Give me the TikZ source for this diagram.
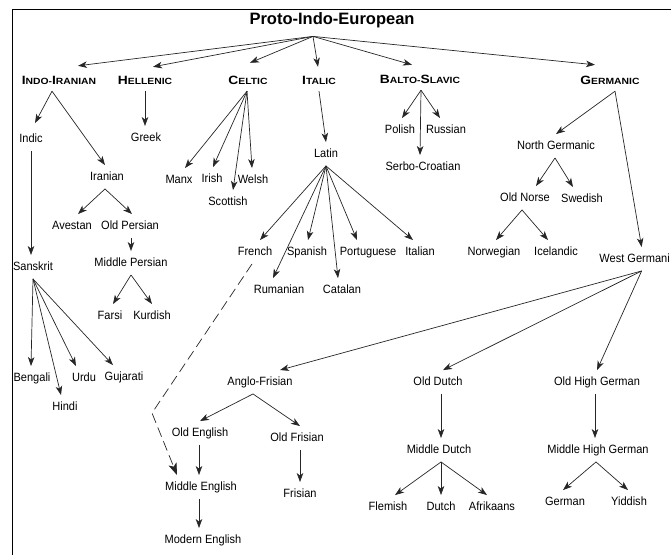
\documentclass[tikz,border=0pt]{standalone}
\usepackage{fontspec}
\setmainfont{Liberation Sans}
\newfontfamily\lblfont[FakeStretch=0.92]{Liberation Sans}
\usepackage{graphicx}
\usetikzlibrary{arrows.meta}
\newcommand\bc[1]{{\fontsize{12}{13}\selectfont #1}}
\newcommand\hdtext[1]{\scalebox{1.15}[1]{#1}}
\begin{document}
\begin{tikzpicture}[x=1pt,y=-1pt,
  lbl/.style={font=\lblfont\fontsize{12}{14}\selectfont, text height=8.5pt, text depth=2.5pt, inner xsep=1pt, inner ysep=6.25pt},
  hd/.style={font=\bfseries\fontsize{9}{10}\selectfont, text height=8.5pt, text depth=0pt, inner xsep=1pt, inner ysep=6.75pt},
  ttl/.style={font=\bfseries\fontsize{16.5}{18}\selectfont, inner sep=0pt},
  arr/.style={draw=black!85, line width=0.7pt, -{Stealth[length=9pt,width=6.5pt,inset=2.5pt]}},
  darr/.style={draw=black!85, line width=0.7pt, dash pattern=on 10pt off 5pt, -{Stealth[length=12pt,width=8.5pt,inset=3pt]}},
  frame/.style={draw=black, line width=0.8pt}]
\useasboundingbox (0,0) rectangle (671,555);
\draw[frame] (12,555) -- (12,9) -- (671,9);

% title and group heads
\node[ttl] (pie) at (332,20) {Proto-Indo-European};
\coordinate (hub) at ([xshift=-19pt,yshift=-8.5pt]pie.south);
\node[hd] (ii)  at (59,80)  {\hdtext{\bc{I}NDO-\bc{I}RANIAN}};
\node[hd] (hel) at (145,80) {\hdtext{\bc{H}ELLENIC}};
\node[hd] (cel) at (248,80) {\hdtext{\bc{C}ELTIC}};
\node[hd] (ita) at (319,80) {\hdtext{\bc{I}TALIC}};
\node[hd] (bs)  at (420,79) {\hdtext{\bc{B}ALTO-\bc{S}LAVIC}};
\node[hd] (ger) at (610,80) {\hdtext{\bc{G}ERMANIC}};

% Indo-Iranian
\node[lbl] (indic) at (31,139) {Indic};
\node[lbl] (iran)  at (107,177) {Iranian};
\node[lbl] (aves)  at (72,226) {Avestan};
\node[lbl] (opers) at (130,226) {Old Persian};
\node[lbl] (mpers) at (131,263) {Middle Persian};
\node[lbl] (farsi) at (110,316) {Farsi};
\node[lbl] (kurd)  at (152,316) {Kurdish};
\node[lbl] (sansk) at (33,267) {Sanskrit};
\node[lbl] (beng)  at (32,378) {Bengali};
\node[lbl] (hindi) at (65,407) {Hindi};
\node[lbl] (urdu)  at (84,378) {Urdu};
\node[lbl] (guj)   at (124,377) {Gujarati};
% Hellenic
\node[lbl] (greek) at (146,138) {Greek};
% Celtic
\node[lbl] (manx)  at (179,180) {Manx};
\node[lbl] (irish) at (212,179) {Irish};
\node[lbl] (scot)  at (228,202) {Scottish};
\node[lbl] (welsh) at (253,180) {Welsh};
% Italic
\node[lbl] (latin) at (326,154) {Latin};
\node[lbl] (french) at (255,252) {French};
\node[lbl] (span)  at (307,252) {Spanish};
\node[lbl] (port)  at (368,252) {Portuguese};
\node[lbl] (ital)  at (420,252) {Italian};
\node[lbl] (ruman) at (279,290) {Rumanian};
\node[lbl] (catal) at (342,290) {Catalan};
% Balto-Slavic
\node[lbl] (polish) at (400,130) {Polish};
\node[lbl] (russ)  at (446,130) {Russian};
\node[lbl] (serbo) at (423,167) {Serbo-Croatian};
% Germanic
\node[lbl] (ngerm) at (556,146) {North Germanic};
\node[lbl] (onorse) at (525,198) {Old Norse};
\node[lbl] (swed)  at (582,199) {Swedish};
\node[lbl] (norw)  at (494,252) {Norwegian};
\node[lbl] (icel)  at (556,252) {Icelandic};
\node[lbl,anchor=east,inner xsep=0pt] (wgerm) at (670,259) {West Germani};
\node[lbl] (afris) at (260,382) {Anglo-Frisian};
\node[lbl] (odutch) at (438,382) {Old Dutch};
\node[lbl] (ohg)   at (597,382) {Old High German};
\node[lbl] (oeng)  at (200,433) {Old English};
\node[lbl] (ofris) at (297,438) {Old Frisian};
\node[lbl] (fris)  at (300,494) {Frisian};
\node[lbl] (meng)  at (201,487) {Middle English};
\node[lbl] (modeng) at (203,540) {Modern English};
\node[lbl] (mdutch) at (439,450) {Middle Dutch};
\node[lbl] (flem)  at (388,507) {Flemish};
\node[lbl] (dutch) at (441,507) {Dutch};
\node[lbl] (afrik) at (492,507) {Afrikaans};
\node[lbl] (mhg)   at (598,450) {Middle High German};
\node[lbl] (german) at (565,502) {German};
\node[lbl] (yidd)  at (629,502) {Yiddish};

% top fan
\draw[arr] (hub) -- ([xshift=19pt,yshift=3pt]ii.north);
\draw[arr] (hub) -- ([xshift=8pt,yshift=2pt]hel.north);
\draw[arr] (hub) -- ([xshift=2pt,yshift=6pt]cel.north);
\draw[arr] (hub) -- ([xshift=-1pt,yshift=2pt]ita.north);
\draw[arr] (hub) -- ([xshift=-8pt,yshift=3pt]bs.north);
\draw[arr] (hub) -- ([xshift=-15pt,yshift=4pt]ger.north);

% Indo-Iranian
\draw[arr] ([xshift=-7pt]ii.south) -- ([xshift=4pt,yshift=4pt]indic.north);
\draw[arr] ([xshift=-7pt]ii.south) -- ([xshift=-2pt]iran.north);
\draw[arr] ([xshift=-2pt]iran.south) -- ([xshift=6pt]aves.north);
\draw[arr] ([xshift=-2pt]iran.south) -- ([xshift=2pt]opers.north);
\draw[arr] ([xshift=1pt]opers.south) -- (mpers.north);
\draw[arr] (mpers.south) -- ([xshift=3pt]farsi.north);
\draw[arr] (mpers.south) -- (kurd.north);
\draw[arr] (indic.south) -- ([xshift=-2pt]sansk.north);
\draw[arr] (sansk.south) -- ([xshift=-1pt]beng.north);
\draw[arr] (sansk.south) -- ([xshift=-4pt]hindi.north);
\draw[arr] (sansk.south) -- ([xshift=-8pt]urdu.north);
\draw[arr] (sansk.south) -- ([xshift=-11pt]guj.north);
% Hellenic
\draw[arr] (hel.south) -- ([xshift=-1pt]greek.north);
% Celtic
\draw[arr] ([xshift=-1pt]cel.south) -- ([xshift=6pt]manx.north);
\draw[arr] ([xshift=-1pt]cel.south) -- ([xshift=1pt]irish.north);
\draw[arr] ([xshift=-1pt]cel.south) -- ([xshift=5pt]scot.north);
\draw[arr] ([xshift=-1pt]cel.south) -- ([xshift=-1pt]welsh.north);
% Italic
\draw[arr] (ita.south) -- (latin.north);
\draw[arr] (latin.south) -- ([xshift=5pt]french.north);
\draw[arr] (latin.south) -- ([xshift=1pt]span.north);
\draw[arr] (latin.south) -- ([xshift=-11pt]port.north);
\draw[arr] (latin.south) -- ([xshift=-7pt]ital.north);
\draw[arr] (latin.south) -- ([xshift=-6pt]ruman.north);
\draw[arr] (latin.south) -- ([xshift=-4pt]catal.north);
% Balto-Slavic
\draw[arr] ([xshift=1pt]bs.south) -- ([xshift=2pt]polish.north);
\draw[arr] ([xshift=1pt]bs.south) -- ([xshift=-6pt]russ.north);
\draw[arr] ([xshift=1pt]bs.south) -- ([xshift=-3pt]serbo.north);
% Germanic
\draw[arr] ([xshift=5pt]ger.south) -- (ngerm.north);
\draw[arr] ([xshift=5pt]ger.south) -- ([xshift=7pt]wgerm.north);
\draw[arr] ([xshift=-1pt]ngerm.south) -- ([xshift=11pt]onorse.north);
\draw[arr] ([xshift=-1pt]ngerm.south) -- ([xshift=-9pt]swed.north);
\draw[arr] ([xshift=-3pt]onorse.south) -- ([xshift=2pt]norw.north);
\draw[arr] ([xshift=-3pt]onorse.south) -- ([xshift=-8pt]icel.north);
\draw[arr] ([xshift=7pt]wgerm.south) -- ([xshift=20pt]afris.north);
\draw[arr] ([xshift=7pt]wgerm.south) -- ([xshift=5pt]odutch.north);
\draw[arr] ([xshift=7pt]wgerm.south) -- (ohg.north);
\draw[arr] ([xshift=-7pt]afris.south) -- (oeng.north);
\draw[arr] ([xshift=-7pt]afris.south) -- ([xshift=3pt]ofris.north);
\draw[arr] ([xshift=-1pt]oeng.south) -- ([xshift=-2pt]meng.north);
\draw[arr] ([xshift=3pt]ofris.south) -- (fris.north);
\draw[arr] ([xshift=-2pt]meng.south) -- ([xshift=-4pt]modeng.north);
\draw[arr] ([xshift=3pt]odutch.south) -- ([xshift=2pt]mdutch.north);
\draw[arr] ([xshift=-2pt]ohg.south) -- ([xshift=-3pt]mhg.north);
\draw[arr] ([xshift=2pt]mdutch.south) -- ([xshift=7pt]flem.north);
\draw[arr] ([xshift=2pt]mdutch.south) -- (dutch.north);
\draw[arr] ([xshift=2pt]mdutch.south) -- ([xshift=-5pt]afrik.north);
\draw[arr] ([xshift=-2pt]mhg.south) -- ([xshift=-2pt]german.north);
\draw[arr] ([xshift=-2pt]mhg.south) -- ([xshift=-1pt]yidd.north);
% French influence on Middle English
\coordinate (bend) at (152,413);
\draw[darr] ([xshift=-3pt]french.south) -- (bend) -- ([xshift=-24pt]meng.north);
\end{tikzpicture}
\end{document}
